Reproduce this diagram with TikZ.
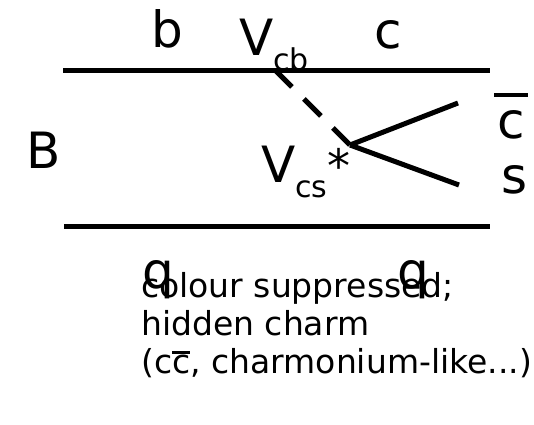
\documentclass[tikz,border=0pt]{standalone}
\usepackage{fontspec}
\setmainfont{DejaVu Sans}
\newcommand{\barover}[3]{\setbox0\hbox{#3}\rlap{\hspace{-#2}\raisebox{#1}{\rule{\dimexpr\wd0+2\dimexpr#2\relax\relax}{0.09em}}}\box0}
\tikzset{
  quark/.style={line width=5pt},
  prop/.style={line width=5pt, dash pattern=on 24pt off 17pt},
  big/.style={inner sep=0pt, anchor=base west, font=\fontsize{50}{54}\selectfont},
  note/.style={inner sep=0pt, anchor=north west, align=left, font=\fontsize{33}{38}\selectfont},
}
\newcommand{\subsz}{\fontsize{30}{32}\selectfont}
\begin{document}
\begin{tikzpicture}[x=1pt,y=-1pt]
\useasboundingbox (0,0) rectangle (534,424);
% coordinates
\coordinate (tl) at (63,70);
\coordinate (tr) at (490,70);
\coordinate (bl) at (64,226);
\coordinate (br) at (490,226);
\coordinate (w) at (275,70);
\coordinate (v) at (350,145);
\coordinate (cb) at (458,103);
\coordinate (sb) at (459,185);
% lines
\draw[quark] (tl) -- (tr);
\draw[quark] (bl) -- (br);
\draw[prop] (w) -- (v);
\draw[quark] (v) -- (cb);
\draw[quark] (v) -- (sb);
% labels
\node[big] (lb) at (151,47) {b};
\node[big] (lvcb) at (239,55) {V\raisebox{-15pt}{\subsz cb}};
\node[big] (lc) at (374,48) {c};
\node[big] (lB) at (26,168) {B};
\node[big] (lvcs) at (261,182) {V\raisebox{-15pt}{\subsz cs}};
\node[inner sep=0pt, font=\fontsize{46}{46}\selectfont] (star) at (339,165) {*};
\node[big] (lcbar) at (497,138) {\barover{41pt}{3pt}{c}};
\node[big] (ls) at (501,193) {s};
\node[big] (lq1) at (142,288) {q};
\node[big] (lq2) at (397,288) {q};
\node[note] (txt) at (141,272) {colour suppressed;\\hidden charm\\(c\barover{19pt}{0pt}{c}, charmonium-like...)};
\end{tikzpicture}
\end{document}
